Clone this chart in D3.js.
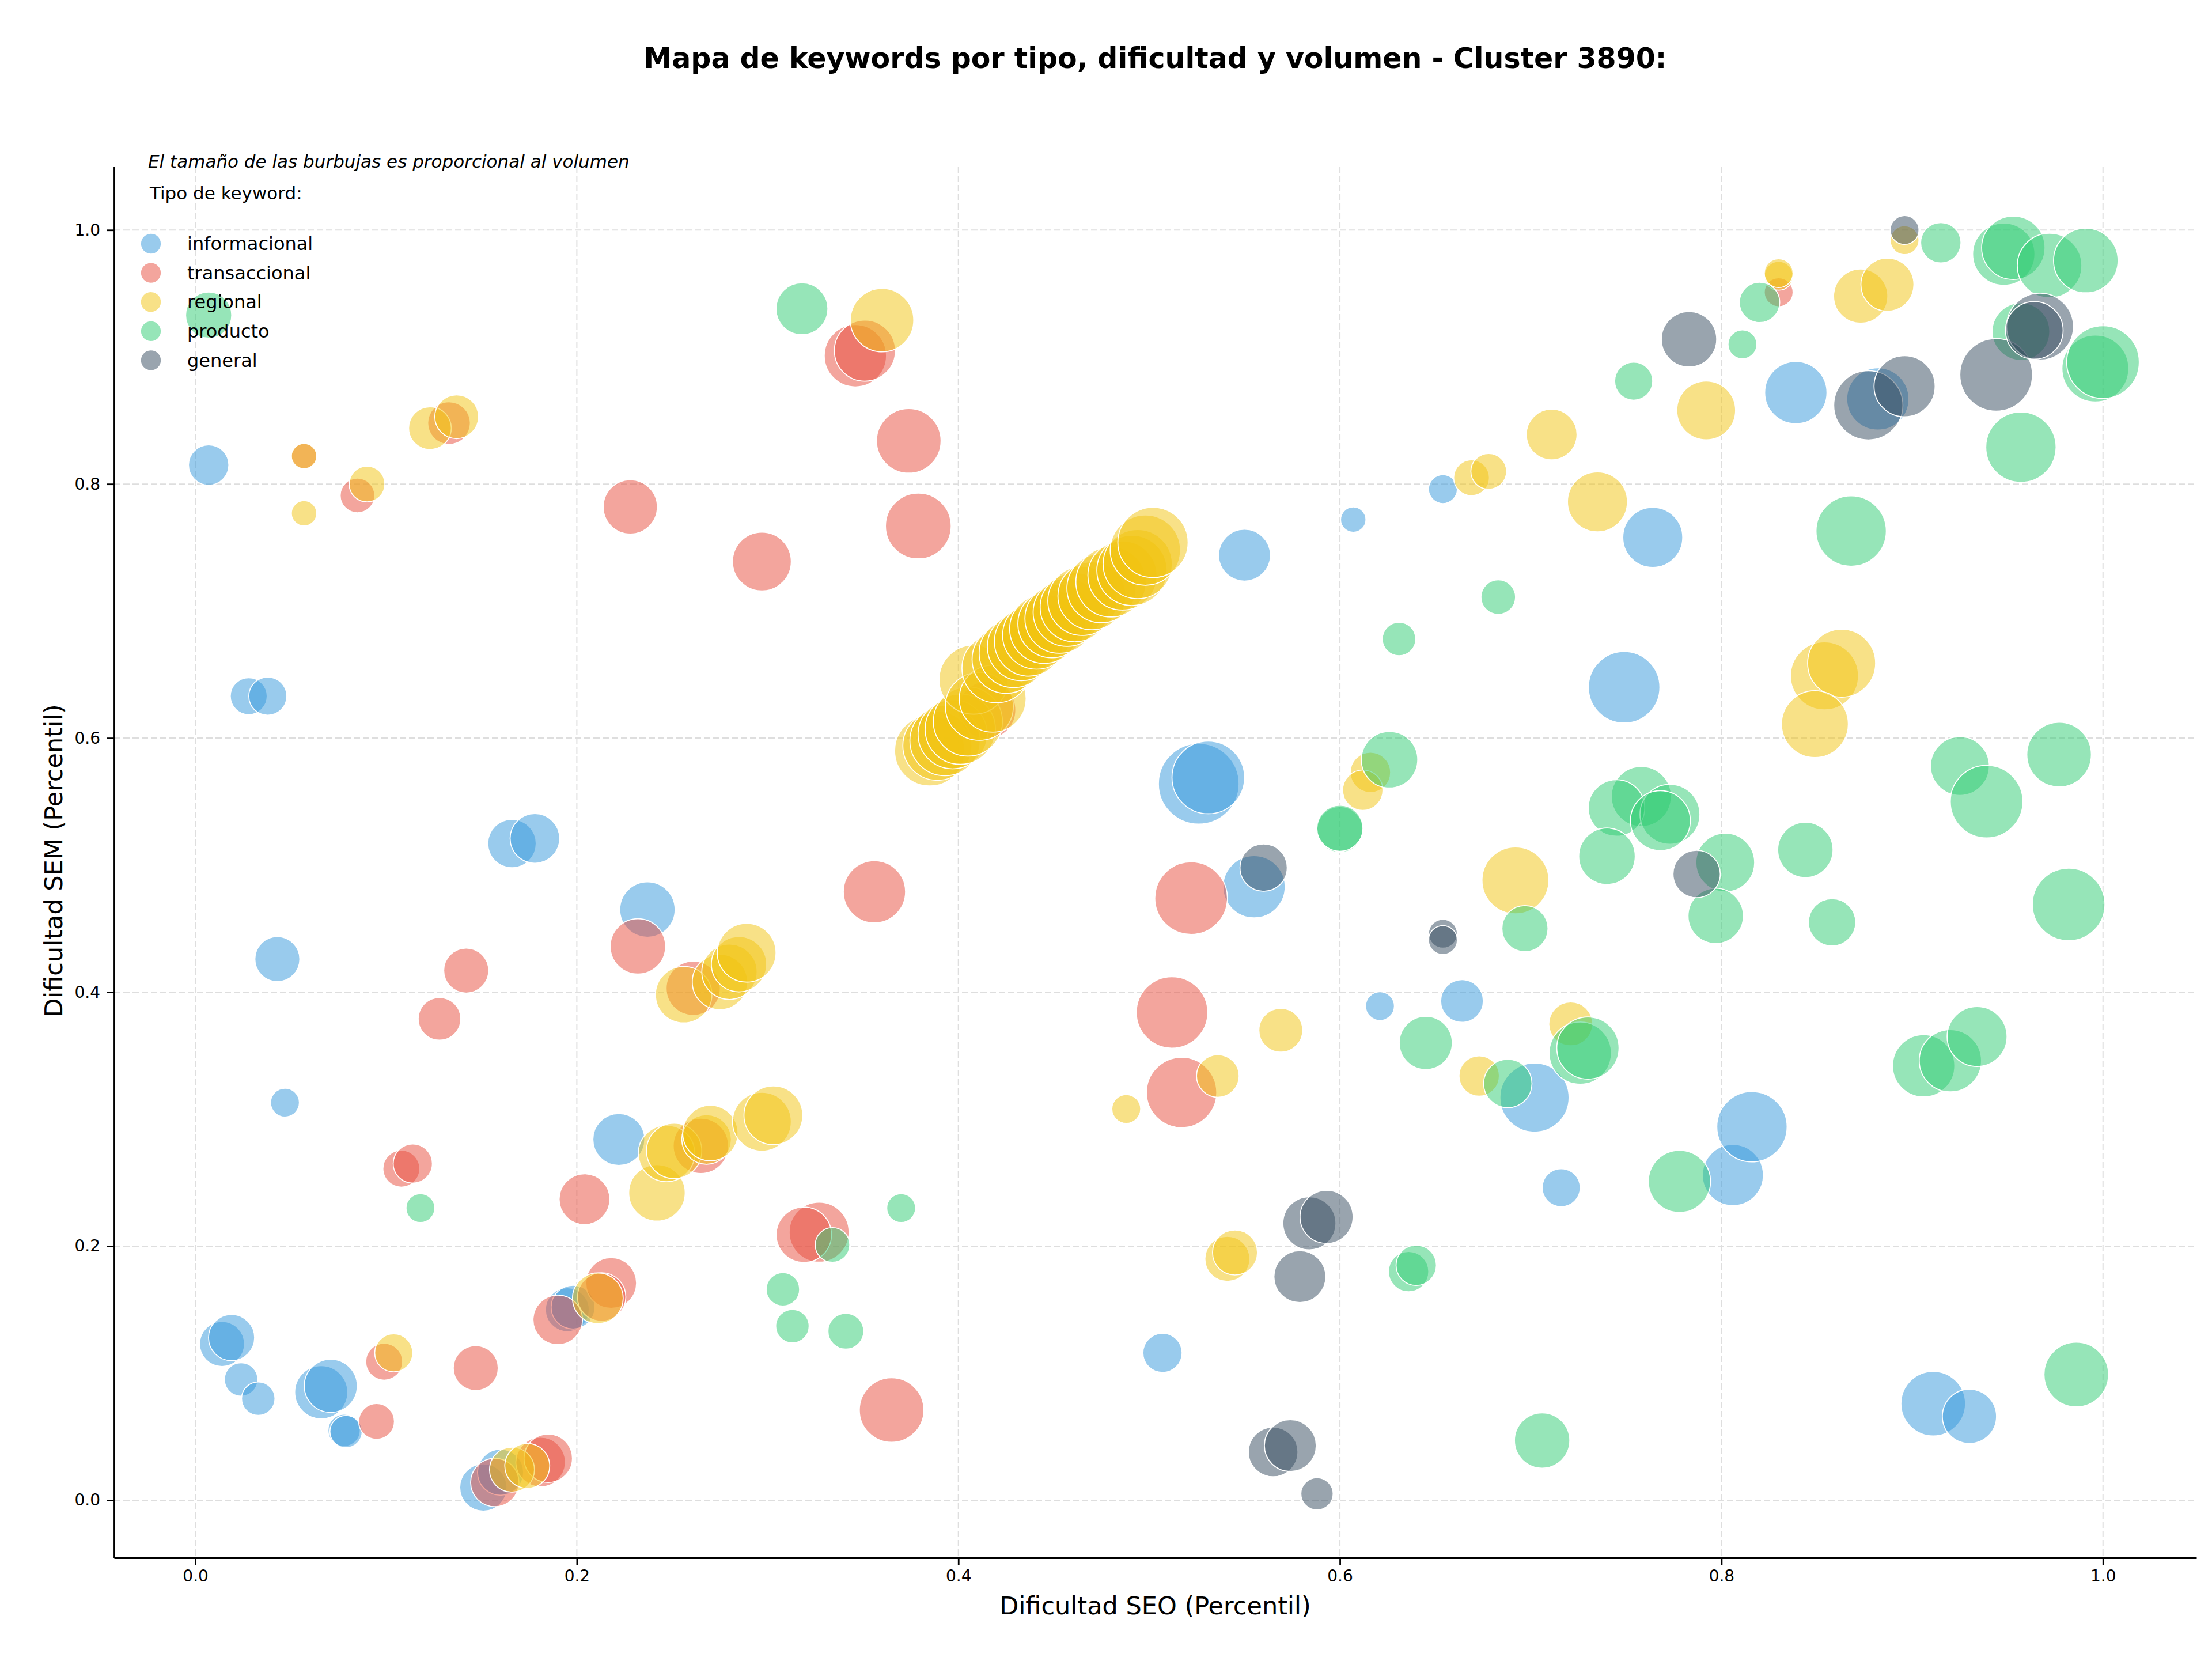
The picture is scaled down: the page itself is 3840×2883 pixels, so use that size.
<!DOCTYPE html>
<html>
<head>
<meta charset="utf-8">
<script src="https://d3js.org/d3.v7.min.js"></script>
<style>
  body { margin: 0; background: #ffffff; }
  text { font-family: "DejaVu Sans", sans-serif; }
</style>
</head>
<body>
<script>
// Datos: [dificultad SEO, dificultad SEM, volumen]
var tipos = ["informacional", "transaccional", "regional", "producto", "general"];
var colores = ["#3498db", "#e74c3c", "#f1c40f", "#2ecc71", "#34495e"];

var informacional = [
  [0.007, 0.815, 1225], [0.028, 0.633, 1024], [0.038, 0.633, 1089], [0.166, 0.517, 1764], [0.178, 0.521, 1849],
  [0.043, 0.426, 1521], [0.237, 0.465, 2304], [0.047, 0.313, 625], [0.222, 0.284, 2025], [0.014, 0.123, 1521],
  [0.019, 0.128, 1600], [0.024, 0.095, 841], [0.033, 0.080, 841], [0.066, 0.085, 2116], [0.071, 0.090, 2116],
  [0.078, 0.055, 784], [0.079, 0.054, 784], [0.195, 0.150, 1444], [0.198, 0.152, 1444], [0.151, 0.010, 1681],
  [0.160, 0.022, 1600], [0.550, 0.744, 2025], [0.607, 0.772, 484], [0.654, 0.796, 625], [0.526, 0.564, 4900],
  [0.531, 0.569, 3969], [0.555, 0.483, 2916], [0.621, 0.389, 625], [0.664, 0.393, 1369], [0.507, 0.116, 1156],
  [0.749, 0.640, 3844], [0.764, 0.758, 2704], [0.839, 0.872, 2916], [0.882, 0.867, 2916], [0.702, 0.317, 3600],
  [0.716, 0.246, 1089], [0.806, 0.256, 2809], [0.816, 0.294, 3721], [0.911, 0.076, 3136], [0.930, 0.066, 2209]
];

var transaccional = [
  [0.057, 0.822, 484], [0.085, 0.791, 900], [0.133, 0.848, 1369], [0.228, 0.782, 2209], [0.297, 0.739, 2601],
  [0.346, 0.901, 2916], [0.351, 0.905, 2809], [0.374, 0.834, 3136], [0.379, 0.767, 3249], [0.415, 0.622, 2500],
  [0.830, 0.951, 625], [0.142, 0.417, 1521], [0.128, 0.379, 1369], [0.232, 0.436, 2304], [0.261, 0.403, 2209],
  [0.356, 0.479, 2916], [0.522, 0.474, 3969], [0.512, 0.384, 3844], [0.517, 0.321, 3721], [0.108, 0.261, 1024],
  [0.114, 0.265, 1156], [0.204, 0.237, 1936], [0.265, 0.279, 2304], [0.327, 0.211, 2704], [0.319, 0.209, 2304],
  [0.365, 0.071, 3136], [0.095, 0.062, 961], [0.099, 0.109, 1024], [0.147, 0.104, 1521], [0.190, 0.142, 1849],
  [0.218, 0.171, 1936], [0.213, 0.160, 1764], [0.157, 0.014, 1764], [0.181, 0.030, 1849], [0.185, 0.033, 1764]
];

var regional = [
  [0.057, 0.822, 484], [0.057, 0.777, 484], [0.090, 0.800, 961], [0.123, 0.844, 1369], [0.137, 0.853, 1444],
  [0.360, 0.929, 3025],
  // la diagonal de keywords regionales
  [0.385, 0.590, 3721], [0.389, 0.594, 3600], [0.393, 0.598, 3721], [0.397, 0.603, 3600], [0.401, 0.607, 3721],
  [0.405, 0.613, 3600], [0.408, 0.646, 3600], [0.411, 0.625, 3481], [0.418, 0.631, 3364], [0.420, 0.655, 3600],
  [0.425, 0.662, 3481], [0.429, 0.667, 3600], [0.433, 0.672, 3481], [0.437, 0.676, 3600], [0.441, 0.681, 3481],
  [0.445, 0.686, 3600], [0.449, 0.690, 3481], [0.453, 0.694, 3600], [0.457, 0.699, 3481], [0.461, 0.703, 3600],
  [0.465, 0.708, 3600], [0.470, 0.712, 3481], [0.475, 0.718, 3600], [0.480, 0.723, 3721], [0.486, 0.728, 3600],
  [0.491, 0.732, 3721], [0.494, 0.737, 3600], [0.498, 0.748, 3721], [0.502, 0.754, 3721],
  [0.669, 0.805, 961], [0.678, 0.810, 961], [0.830, 0.964, 625], [0.830, 0.966, 625], [0.873, 0.948, 2209],
  [0.887, 0.957, 2116], [0.896, 0.992, 625], [0.711, 0.839, 1936], [0.735, 0.786, 2704], [0.792, 0.858, 2601],
  [0.854, 0.649, 3481], [0.863, 0.659, 3481], [0.849, 0.611, 3364], [0.616, 0.573, 1225], [0.612, 0.559, 1225],
  [0.692, 0.488, 3364], [0.569, 0.370, 1444], [0.673, 0.334, 1225], [0.721, 0.375, 1444], [0.536, 0.334, 1369],
  [0.488, 0.308, 625], [0.541, 0.190, 1521], [0.545, 0.195, 1521], [0.256, 0.398, 2401], [0.275, 0.408, 2304],
  [0.280, 0.416, 2304], [0.285, 0.422, 2304], [0.289, 0.431, 2601], [0.242, 0.242, 2401], [0.247, 0.273, 2401],
  [0.251, 0.275, 2304], [0.268, 0.284, 1849], [0.270, 0.289, 2304], [0.297, 0.298, 2601], [0.303, 0.303, 2601],
  [0.104, 0.116, 1089], [0.211, 0.159, 1936], [0.166, 0.024, 1521], [0.174, 0.027, 1521]
];

var producto = [
  [0.007, 0.933, 1600], [0.318, 0.938, 2025], [0.683, 0.711, 900], [0.631, 0.678, 841], [0.915, 0.990, 1225],
  [0.948, 0.981, 2916], [0.953, 0.986, 3025], [0.972, 0.972, 3136], [0.991, 0.976, 3136], [0.820, 0.943, 1225],
  [0.811, 0.910, 625], [0.754, 0.881, 1089], [0.957, 0.920, 2500], [0.996, 0.891, 3364], [1.000, 0.896, 3969],
  [0.957, 0.829, 3721], [0.868, 0.763, 3721], [0.925, 0.578, 2601], [0.939, 0.550, 3969], [0.977, 0.587, 3136],
  [0.982, 0.469, 3969], [0.758, 0.554, 2704], [0.745, 0.545, 2401], [0.773, 0.540, 2704], [0.768, 0.535, 2704],
  [0.740, 0.507, 2401], [0.697, 0.450, 1600], [0.802, 0.502, 2601], [0.797, 0.460, 2304], [0.844, 0.512, 2304],
  [0.858, 0.455, 1681], [0.726, 0.352, 2916], [0.730, 0.356, 2916], [0.906, 0.342, 2916], [0.920, 0.346, 2916],
  [0.934, 0.365, 2704], [0.688, 0.328, 1764], [0.778, 0.251, 2916], [0.706, 0.047, 2304], [0.986, 0.099, 3136],
  [0.626, 0.583, 2401], [0.600, 0.528, 1600], [0.600, 0.529, 1600], [0.645, 0.360, 2116], [0.636, 0.180, 1225],
  [0.640, 0.185, 1225], [0.334, 0.201, 900], [0.370, 0.230, 625], [0.341, 0.133, 961], [0.313, 0.137, 841],
  [0.308, 0.166, 841], [0.118, 0.230, 625]
];

var general = [
  [0.896, 1.000, 625], [0.783, 0.914, 2304], [0.877, 0.862, 3600], [0.896, 0.877, 2809], [0.944, 0.886, 3969],
  [0.967, 0.924, 3364], [0.964, 0.921, 2500], [0.787, 0.493, 1681], [0.560, 0.498, 1681], [0.654, 0.446, 625],
  [0.654, 0.441, 625], [0.584, 0.218, 2116], [0.593, 0.223, 2116], [0.579, 0.176, 2025], [0.565, 0.038, 1849],
  [0.574, 0.043, 2025], [0.588, 0.005, 784]
];

var series = [informacional, transaccional, regional, producto, general];

var xTicks = [0.0, 0.2, 0.4, 0.6, 0.8, 1.0];
var yTicks = [0.0, 0.2, 0.4, 0.6, 0.8, 1.0];

var svgWidth = 3840;
var svgHeight = 2883;

var margin = { top: 289, right: 27, bottom: 179, left: 198 };
var width = svgWidth - margin.left - margin.right;
var height = svgHeight - margin.top - margin.bottom;

var svg = d3.select("body")
  .append("svg")
  .attr("width", svgWidth)
  .attr("height", svgHeight)
  .style("background", "#ffffff");

var chartGroup = svg.append("g")
  .attr("transform", `translate(${margin.left}, ${margin.top})`);

// scales
var xScale = d3.scaleLinear()
  .domain([-0.0426, 1.049])
  .range([0, width]);

var yScale = d3.scaleLinear()
  .domain([-0.0454, 1.050])
  .range([height, 0]);

var rScale = d3.scaleSqrt()
  .domain([0, 4900])
  .range([0, 70]);

// grid
chartGroup.append("g").selectAll("line")
  .data(xTicks)
  .enter()
  .append("line")
  .attr("x1", d => xScale(d))
  .attr("x2", d => xScale(d))
  .attr("y1", 0)
  .attr("y2", height)
  .attr("stroke", "#dedede")
  .attr("stroke-width", 2)
  .attr("stroke-dasharray", "11,5");

chartGroup.append("g").selectAll("line")
  .data(yTicks)
  .enter()
  .append("line")
  .attr("x1", 0)
  .attr("x2", width)
  .attr("y1", d => yScale(d))
  .attr("y2", d => yScale(d))
  .attr("stroke", "#dedede")
  .attr("stroke-width", 2)
  .attr("stroke-dasharray", "11,5");

// bubbles, one group per tipo
series.forEach(function(datos, i) {
  chartGroup.append("g")
    .selectAll("circle")
    .data(datos)
    .enter()
    .append("circle")
    .attr("cx", d => xScale(d[0]))
    .attr("cy", d => yScale(d[1]))
    .attr("r", d => rScale(d[2]))
    .attr("fill", colores[i])
    .attr("fill-opacity", 0.5)
    .attr("stroke", "#ffffff")
    .attr("stroke-width", 1.7);
});

// axes
var bottomAxis = d3.axisBottom(xScale)
  .tickValues(xTicks)
  .tickFormat(d3.format(".1f"))
  .tickSize(12)
  .tickSizeOuter(0)
  .tickPadding(9);

var leftAxis = d3.axisLeft(yScale)
  .tickValues(yTicks)
  .tickFormat(d3.format(".1f"))
  .tickSize(12)
  .tickSizeOuter(0)
  .tickPadding(12);

var xAxisG = chartGroup.append("g")
  .attr("transform", `translate(0, ${height})`)
  .call(bottomAxis);

var yAxisG = chartGroup.append("g")
  .call(leftAxis);

[xAxisG, yAxisG].forEach(function(g) {
  g.select(".domain").attr("stroke", "#000").attr("stroke-width", 2.8);
  g.selectAll(".tick line").attr("stroke", "#000").attr("stroke-width", 2.8);
  g.selectAll(".tick text")
    .attr("fill", "#000")
    .style("font-family", "DejaVu Sans")
    .style("font-size", "28px");
});

// axis labels
svg.append("text")
  .attr("x", margin.left + width / 2)
  .attr("y", 2802)
  .attr("text-anchor", "middle")
  .style("font-size", "43px")
  .text("Dificultad SEO (Percentil)");

svg.append("text")
  .attr("transform", "rotate(-90)")
  .attr("x", -1494)
  .attr("y", 108)
  .attr("text-anchor", "middle")
  .style("font-size", "43px")
  .text("Dificultad SEM (Percentil)");

// title
svg.append("text")
  .attr("x", margin.left + width / 2)
  .attr("y", 118)
  .attr("text-anchor", "middle")
  .style("font-size", "49px")
  .style("font-weight", "bold")
  .text("Mapa de keywords por tipo, dificultad y volumen - Cluster 3890:");

// note about bubble size
svg.append("text")
  .attr("x", 257)
  .attr("y", 291)
  .style("font-size", "31px")
  .style("font-style", "italic")
  .text("El tamaño de las burbujas es proporcional al volumen");

// legend
var legend = svg.append("g");

legend.append("text")
  .attr("x", 260)
  .attr("y", 346)
  .style("font-size", "31px")
  .text("Tipo de keyword:");

var items = legend.selectAll("g.item")
  .data(tipos)
  .enter()
  .append("g")
  .attr("class", "item")
  .attr("transform", (d, i) => `translate(262, ${423 + i * 50.6})`);

items.append("circle")
  .attr("r", 18)
  .attr("fill", (d, i) => colores[i])
  .attr("fill-opacity", 0.5)
  .attr("stroke", "#ffffff")
  .attr("stroke-width", 1.7);

items.append("text")
  .attr("x", 63)
  .attr("dy", "0.35em")
  .style("font-size", "32px")
  .text(d => d);
</script>
</body>
</html>
